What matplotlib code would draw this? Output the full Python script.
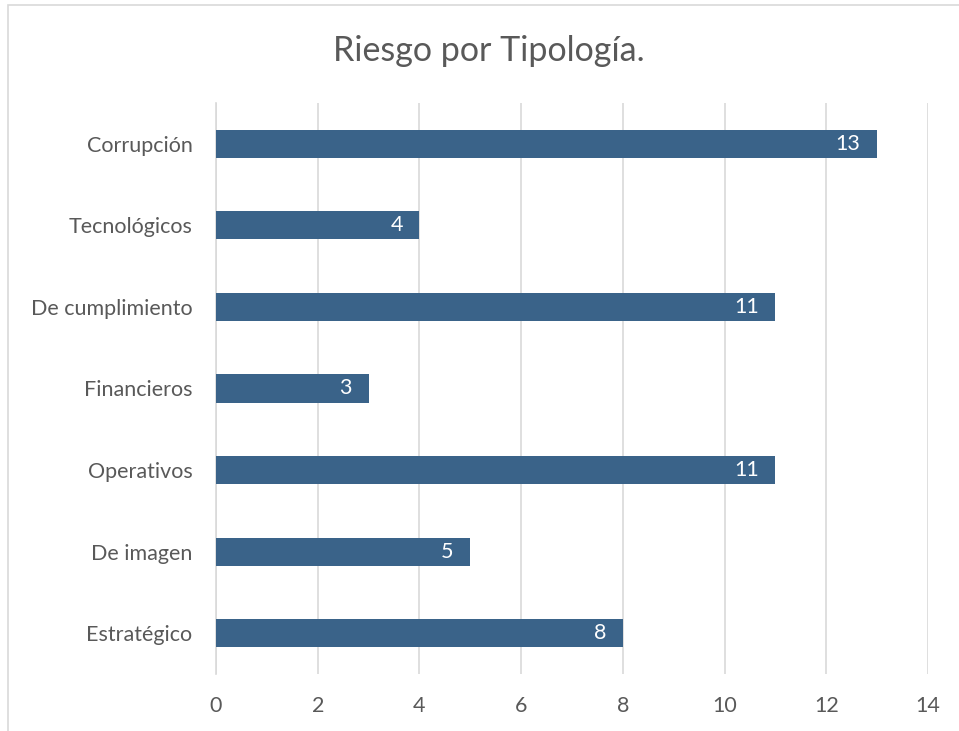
import matplotlib
matplotlib.use("Agg")
import matplotlib.pyplot as plt
from matplotlib.patches import Rectangle

categories = ["Estratégico", "De imagen", "Operativos", "Financieros",
              "De cumplimiento", "Tecnológicos", "Corrupción"]
values = [8, 5, 11, 3, 11, 4, 13]
xticks = [0, 2, 4, 6, 8, 10, 12, 14]
title = "Riesgo por Tipología."

bar_color = "#3A6389"
text_color = "#595959"
grid_color = "#D9D9D9"

plt.rcParams["font.family"] = ["Lato", "DejaVu Sans"]

W, H = 959, 731
fig = plt.figure(figsize=(W / 100, H / 100), dpi=100)
fig.patch.set_facecolor("white")

# outer chart frame
fig.add_artist(Rectangle((8 / W, -0.01), 1.2, 1 - 5 / H + 0.01,
                         transform=fig.transFigure, fill=False,
                         edgecolor="#D9D9D9", linewidth=1.2))

ax = fig.add_axes([216 / W, 1 - 674 / H, (928 - 216) / W, (674 - 103) / H])
ypos = list(range(len(categories)))
ax.barh(ypos, values, height=0.345, color=bar_color, zorder=3)
ax.set_xlim(0, 14)
ax.set_ylim(-0.5, len(categories) - 0.5)
ax.set_xticks(xticks)
ax.set_xticklabels([str(t) for t in xticks])
ax.set_yticks(ypos)
ax.set_yticklabels(categories)
ax.tick_params(axis="both", length=0, labelsize=15.5, colors=text_color)
ax.tick_params(axis="x", pad=16)
ax.tick_params(axis="y", pad=17)
ax.grid(axis="x", color=grid_color, linewidth=1.2, zorder=0)
ax.grid(axis="y", visible=False)
for s in ["top", "right", "bottom"]:
    ax.spines[s].set_visible(False)
ax.spines["left"].set_color(grid_color)
ax.spines["left"].set_linewidth(1.2)

for y, v in zip(ypos, values):
    ax.annotate(str(v), xy=(v, y), xytext=(-12, 0), textcoords="offset points",
                ha="right", va="center", color="white", fontsize=15.5, zorder=4)

fig.text(489 / W, 1 - 51 / H, title, ha="center", va="center",
         fontsize=24.5, color=text_color)

fig.savefig("out.png", dpi=100, facecolor="white")
